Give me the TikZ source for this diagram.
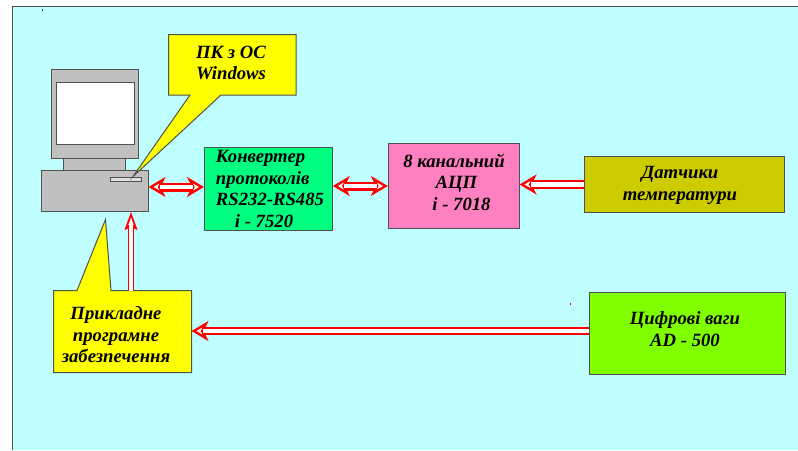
\documentclass[tikz,border=0pt]{standalone}
\usepackage{fontspec}
\setmainfont{Liberation Serif}
\usetikzlibrary{arrows.meta}

\definecolor{bgcyan}{HTML}{C0FFFF}
\definecolor{pcgray}{HTML}{C0C0C0}
\definecolor{edgegray}{HTML}{505050}
\definecolor{convgreen}{HTML}{00FF80}
\definecolor{adcpink}{HTML}{FF80C0}
\definecolor{sensolive}{HTML}{CCCC00}
\definecolor{scalelime}{HTML}{80FF00}
\definecolor{callyellow}{RGB}{255,255,0}

\tikzset{
  bigtip/.tip={Stealth[open, length=17pt, width=20pt, inset=5pt, fill=white, color=red, line width=2.4pt]},
  uptip/.tip={Stealth[open, length=18pt, width=13pt, inset=3pt, fill=white, color=red, line width=1.8pt]},
}

% head first, then the shaft over its notch
\newcommand{\hollowlink}[4]{%
  \path[tips, #2] #3 -- #4;
  \draw[hollow, #1] #3 -- #4;
}

\begin{document}
\begin{tikzpicture}[
  x=1pt, y=-1pt,
  font=\fontsize{18.7}{21.5}\selectfont\bfseries\itshape,
  box/.style={draw=edgegray, line width=1pt, minimum width=#1, inner sep=0pt},
  part/.style={draw=edgegray, line width=1pt, fill=pcgray, inner sep=0pt},
  callbox/.style={draw=edgegray, line width=1pt, fill=callyellow, line join=miter},
  txt/.style={align=center, inner sep=0pt},
  hollow/.style={draw=red, line width=2.2pt, double=white, double distance=4.6pt},
]
  \useasboundingbox (0,0) rectangle (798,450);
  \fill[white] (0,0) rectangle (798,450);
  \fill[bgcyan] (12,6) rectangle (798,450);
  \draw[edgegray, line width=1pt] (12,450) -- (12,6) -- (798,6);

  % ===================== COMPUTER =====================
  \node[part, minimum width=87pt, minimum height=89.5pt] (monitor) at (94.5,113.75) {};
  \node[part, fill=white, minimum width=78pt, minimum height=62pt] (screen) at (95.5,113.5) {};
  \node[part, minimum width=62pt, minimum height=11.5pt] (neck) at (94.5,164.25) {};
  \node[part, minimum width=107pt, minimum height=41.5pt] (pcbase) at (94.5,190.75) {};
  \node[part, fill=pcgray!50, minimum width=31pt, minimum height=4.5pt] (slot) at (125.5,179.25) {};

  % Callouts
  \draw[callbox] (168.5,34.5) -- (296,34.5) -- (296,95) -- (221,95) -- (133,176.5)
    -- (190,95) -- (168.5,95) -- cycle;
  \node[txt] (pclabel) at (231,63) {ПК з ОС\\Windows};

  \draw[callbox] (53.5,290.5) -- (77,290.5) -- (105.5,219.5) -- (111,290.5) -- (191.5,290.5)
    -- (191.5,372.5) -- (53.5,372.5) -- cycle;
  \coordinate (appnorth) at (131,290.5);
  \coordinate (appeast) at (191.5,331);
  \node[txt] (applabel) at (116,335) {Прикладне\\програмне\\забезпечення};

  % ===================== BOXES =====================
  \node[box=128pt, fill=convgreen, minimum height=83pt] (conv) at (268.3,188.5) {};
  \node[txt, align=left] (convlabel) at (270,189) {Конвертер\\протоколів\\RS232-RS485\\\hspace*{19pt}i - 7520};

  \node[box=130.7pt, fill=adcpink, minimum height=85.4pt] (adc) at (453.7,186) {};
  \node[txt] (adclabel) at (454,182) {8 канальний\\\hspace*{5pt}АЦП\\\hspace*{15pt}i - 7018};

  \node[box=200.7pt, fill=sensolive, minimum height=56.4pt] (sensor) at (684.6,184.5) {};
  \node[txt] (sensorlabel) at (680,185.5) {Датчики\\температури};

  \node[box=196pt, fill=scalelime, minimum height=81.3pt] (scales) at (687,333.6) {};
  \node[txt] (scaleslabel) at (685,329) {Цифрові ваги\\AD - 500};

  % ===================== LINKS =====================
  \coordinate (convin) at (204,187);
  \hollowlink{shorten <=11pt, shorten >=11pt}{{bigtip}-{bigtip}}{(pcbase.east |- convin)}{(convin)}
  \hollowlink{shorten <=11pt, shorten >=11pt}{{bigtip}-{bigtip}}{(conv.east |- adc.west)}{(adc.west)}
  \hollowlink{shorten >=11pt}{-{bigtip}}{(sensor.west)}{(adc.east |- sensor.west)}
  \hollowlink{line width=1.4pt, double distance=4pt, shorten >=13pt}{-{uptip}}{(appnorth)}{(appnorth |- pcbase.south)}
  \hollowlink{double distance=3.5pt, shorten >=11pt}{-{bigtip}}{(scales.west |- appeast)}{(appeast)}

  % Stray marks
  \fill[red] (569.5,303) rectangle (571,304.5);
  \fill[edgegray] (41.5,9) rectangle (42.5,11);
\end{tikzpicture}
\end{document}
